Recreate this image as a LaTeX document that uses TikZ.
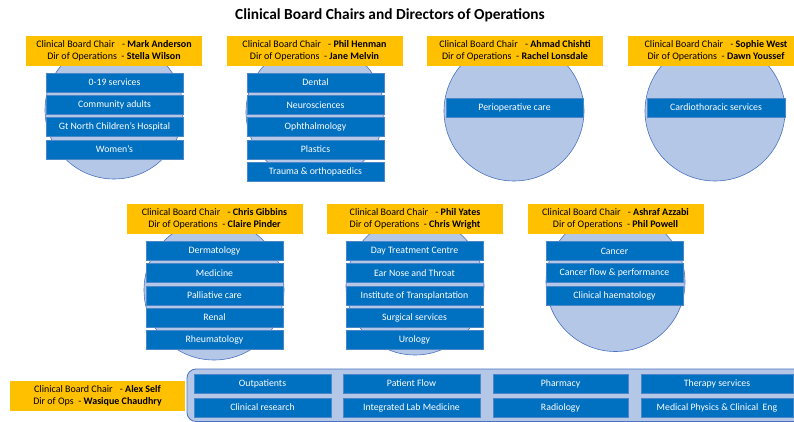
\documentclass[tikz,border=0pt]{standalone}
\usepackage{fontspec}
\setmainfont{Carlito}
\definecolor{unitblue}{HTML}{0070C0}
\definecolor{unitedge}{HTML}{4A86C8}
\definecolor{cbfill}{HTML}{B4C7E7}
\definecolor{cbedge}{HTML}{4A72C0}
\definecolor{chairyellow}{HTML}{FFC000}
\tikzset{
  cboard/.style={circle, draw=cbedge, line width=0.6pt, fill=cbfill, minimum size=#1, inner sep=0pt},
  unitbox/.style={rectangle, draw=unitedge, line width=0.5pt, fill=unitblue, text=white,
    minimum width=137pt, minimum height=19pt, inner sep=0pt, font=\fontsize{9.8}{11}\selectfont},
  chairbox/.style={rectangle, fill=chairyellow, minimum width=176pt, minimum height=30pt,
    inner sep=0pt, align=center, font=\fontsize{10}{12}\selectfont},
  sharedpanel/.style={rectangle, rounded corners=9pt, draw=cbedge, line width=0.8pt, fill=cbfill},
}
\begin{document}
\begin{tikzpicture}[x=1pt, y=-1pt]
\useasboundingbox (0,0) rectangle (794,422);
\clip (0,0) rectangle (794,422);

\node[font=\bfseries\fontsize{15.4}{17}\selectfont] (title) at (390,15) {Clinical Board Chairs and Directors of Operations};

% ---- first row of boards ----
\node[cboard=138pt] (c1) at (114,110) {};
\node[cboard=138pt] (c2) at (315,112) {};
\node[cboard=140pt] (c3) at (514,111) {};
\node[cboard=140pt] (c4) at (715,111) {};

\node[chairbox] (y1) at (114,51) {Clinical Board Chair\enspace\ - \textbf{Mark Anderson}\\Dir of Operations\ \ - \textbf{Stella Wilson}};
\node[chairbox] (y2) at (314.5,51) {Clinical Board Chair\enspace\ - \textbf{Phil Henman}\\Dir of Operations\ \ - \textbf{Jane Melvin}};
\node[chairbox] (y3) at (515,51) {Clinical Board Chair\enspace\ - \textbf{Ahmad Chishti}\\Dir of Operations\ \ - \textbf{Rachel Lonsdale}};
\node[chairbox] (y4) at (716,51) {Clinical Board Chair\enspace\ - \textbf{Sophie West}\\Dir of Operations\ \ - \textbf{Dawn Youssef}};

\node[unitbox] (a1) at (114.5,82.5) {0-19 services};
\node[unitbox] (a2) at (114.5,104.8) {Community adults};
\node[unitbox] (a3) at (114.5,127.1) {Gt North Children’s Hospital};
\node[unitbox] (a4) at (114.5,149.4) {Women’s};

\node[unitbox] (b1) at (315.5,82.5) {Dental};
\node[unitbox] (b2) at (315.5,104.8) {Neurosciences};
\node[unitbox] (b3) at (315.5,127.1) {Ophthalmology};
\node[unitbox] (b4) at (315.5,149.4) {Plastics};
\node[unitbox] (b5) at (315.5,171.7) {Trauma \& orthopaedics};

\node[unitbox] (p1) at (514.5,107.5) {Perioperative care};
\node[unitbox, minimum width=138pt] (q1) at (716,107.5) {Cardiothoracic services};

% ---- second row of boards ----
\node[cboard=140pt] (c5) at (214,290) {};
\node[cboard=138pt] (c6) at (415,286) {};
\node[cboard=139pt] (c7) at (615.5,282) {};

\node[chairbox] (y5) at (214.5,218.5) {Clinical Board Chair\enspace\ - \textbf{Chris Gibbins}\\Dir of Operations\ \ - \textbf{Claire Pinder}};
\node[chairbox] (y6) at (415,218.5) {Clinical Board Chair\enspace\ - \textbf{Phil Yates}\\Dir of Operations\ \ - \textbf{Chris Wright}};
\node[chairbox] (y7) at (615.5,218.5) {Clinical Board Chair\enspace\ - \textbf{Ashraf Azzabi}\\Dir of Operations\ \ - \textbf{Phil Powell}};

\node[unitbox] (d1) at (214.5,251) {Dermatology};
\node[unitbox] (d2) at (214.5,273) {Medicine};
\node[unitbox] (d3) at (214.5,295.5) {Palliative care};
\node[unitbox] (d4) at (214.5,317.5) {Renal};
\node[unitbox] (d5) at (214.5,339.5) {Rheumatology};

\node[unitbox] (e1) at (414.5,251) {Day Treatment Centre};
\node[unitbox] (e2) at (414.5,273) {Ear Nose and Throat};
\node[unitbox] (e3) at (414.5,295.5) {Institute of Transplantation};
\node[unitbox] (e4) at (414.5,317.5) {Surgical services};
\node[unitbox] (e5) at (414.5,339.5) {Urology};

\node[unitbox] (f1) at (614.5,251) {Cancer};
\node[unitbox] (f2) at (614.5,273) {Cancer flow \& performance};
\node[unitbox] (f3) at (614.5,295.5) {Clinical haematology};

% ---- shared services board ----
\node[chairbox, minimum width=175pt] (y8) at (97.5,396) {Clinical Board Chair\enspace\ - \textbf{Alex Self}\\Dir of Ops\ \ - \textbf{Wasique Chaudhry}};
\draw[sharedpanel] (187,369) rectangle (806,421.5);

\node[unitbox] (g1) at (262.5,383.5) {Outpatients};
\node[unitbox] (g2) at (411.5,383.5) {Patient Flow};
\node[unitbox, minimum width=135pt] (g3) at (560.5,383.5) {Pharmacy};
\node[unitbox, minimum width=152pt] (g4) at (717,383.5) {Therapy services};
\node[unitbox] (h1) at (262.5,407.5) {Clinical research};
\node[unitbox] (h2) at (411.5,407.5) {Integrated Lab Medicine};
\node[unitbox, minimum width=135pt] (h3) at (560.5,407.5) {Radiology};
\node[unitbox, minimum width=152pt] (h4) at (717,407.5) {Medical Physics \& Clinical\ \ Eng};
\end{tikzpicture}
\end{document}
